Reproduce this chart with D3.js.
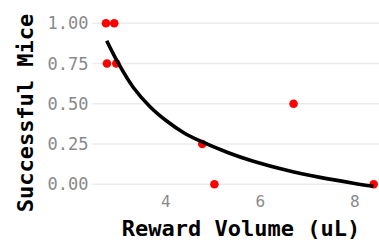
<!DOCTYPE html>
<html lang="en">
<head>
<meta charset="utf-8">
<title>Successful Mice vs Reward Volume</title>
<script src="https://cdn.jsdelivr.net/npm/d3@7"></script>
<style>
  body { margin: 0; background: #fff; }
  svg { display: block; }
  .tick text { font-family: "DejaVu Sans Mono", monospace; fill: #8a8a8a; }
  .axis-title { font-family: "DejaVu Sans Mono", monospace; font-weight: bold; fill: #000; }
</style>
</head>
<body>
<div id="chart"></div>
<script>
  // observed points
  const volume  = [2.745, 2.92, 2.766, 2.963, 6.715, 4.783, 5.04, 8.41];
  const success = [1.00, 1.00, 0.75, 0.75, 0.50, 0.25, 0.00, 0.00];

  // fitted curve
  const fitX = [2.761, 3.006, 3.324, 3.677, 4.030, 4.382, 4.735, 5.334, 5.863, 6.570, 7.275, 7.980, 8.403];
  const fitY = [0.892, 0.752, 0.601, 0.482, 0.393, 0.322, 0.269, 0.196, 0.143, 0.087, 0.043, 0.007, -0.012];

  const yTicks = [0, 0.25, 0.5, 0.75, 1];
  const xTicks = [4, 6, 8];

  const width = 379, height = 240;
  const svg = d3.select('#chart').append('svg').attr('width', width).attr('height', height);

  const x = d3.scaleLinear().domain([2.46, 8.69]).range([92.5, 386.9]);
  const y = d3.scaleLinear().domain([-0.05, 1.05]).range([192.35, 15.25]);

  // horizontal grid
  svg.append('g')
    .selectAll('line')
    .data(yTicks)
    .join('line')
    .attr('x1', x.range()[0]).attr('x2', x.range()[1])
    .attr('y1', d => y(d)).attr('y2', d => y(d))
    .attr('stroke', '#ebebeb')
    .attr('stroke-width', 1.6);

  // y axis labels
  const yAxis = d3.axisLeft(y).tickValues(yTicks).tickFormat(d3.format('.2f')).tickSize(0).tickPadding(4);
  svg.append('g')
    .attr('transform', `translate(${x.range()[0]},0)`)
    .call(yAxis)
    .call(g => g.select('.domain').remove())
    .selectAll('text').attr('font-size', 17);

  // x axis labels
  const xAxis = d3.axisBottom(x).tickValues(xTicks).tickFormat(d3.format('d')).tickSize(0).tickPadding(3);
  svg.append('g')
    .attr('transform', `translate(0,${y.range()[0]})`)
    .call(xAxis)
    .call(g => g.select('.domain').remove())
    .selectAll('text').attr('font-size', 16);

  // points
  svg.append('g')
    .selectAll('circle')
    .data(volume.map((v, i) => [v, success[i]]))
    .join('circle')
    .attr('cx', d => x(d[0]))
    .attr('cy', d => y(d[1]))
    .attr('r', 4.3)
    .attr('fill', '#ff0000');

  // fitted line
  const line = d3.line().x(d => x(d[0])).y(d => y(d[1])).curve(d3.curveCatmullRom);
  svg.append('path')
    .datum(fitX.map((v, i) => [v, fitY[i]]))
    .attr('d', line)
    .attr('fill', 'none')
    .attr('stroke', '#000')
    .attr('stroke-width', 3.6);

  // titles
  svg.append('text')
    .classed('axis-title', true)
    .attr('x', 241).attr('y', 236)
    .attr('text-anchor', 'middle')
    .attr('font-size', 22)
    .text('Reward Volume (uL)');

  svg.append('text')
    .classed('axis-title', true)
    .attr('transform', 'translate(33,113) rotate(-90)')
    .attr('text-anchor', 'middle')
    .attr('font-size', 22)
    .text('Successful Mice');
</script>
</body>
</html>
